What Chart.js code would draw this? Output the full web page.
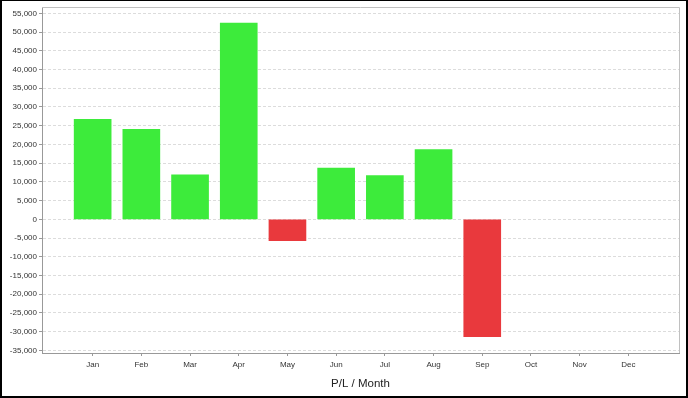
<!DOCTYPE html>
<html><head><meta charset="utf-8">
<script src="https://cdn.jsdelivr.net/npm/chart.js@4"></script>
<style>html,body{margin:0;padding:0;background:#fff}#wrap{position:relative;width:688px;height:398px}</style>
</head><body><div id="wrap"><canvas id="c"></canvas></div>
<script>
const months = ['Jan','Feb','Mar','Apr','May','Jun','Jul','Aug','Sep','Oct','Nov','Dec'];
const profitLoss = [26700, 24000, 11900, 52400, -5700, 13700, 11700, 18650, -31350, null, null, null];
const yTicks = [-35000,-30000,-25000,-20000,-15000,-10000,-5000,0,5000,10000,15000,20000,25000,30000,35000,40000,45000,50000,55000];
const axisTitle = 'P/L / Month';
const GREEN = '#3deb3b', RED = '#e9393d';

const framePlugin = {
  id: 'frame',
  afterDraw(chart) {
    const {ctx, chartArea: a} = chart;
    ctx.save();
    ctx.strokeStyle = '#c0c0c0';
    ctx.lineWidth = 1;
    ctx.beginPath();
    ctx.moveTo(a.left, a.top + 0.5);
    ctx.lineTo(a.right + 0.5, a.top + 0.5);
    ctx.lineTo(a.right + 0.5, a.bottom);
    ctx.stroke();
    ctx.fillStyle = '#000';
    ctx.fillRect(0, 0, 688, 1);
    ctx.fillRect(0, 0, 2, 398);
    ctx.fillRect(686, 0, 2, 398);
    ctx.fillRect(0, 396, 688, 2);
    ctx.restore();
  }
};

new Chart(document.getElementById('c'), {
  type: 'bar',
  data: {
    datasets: [{
      data: months.map((m, i) => ({x: i + 1, y: profitLoss[i]})),
      backgroundColor: profitLoss.map(v => (v !== null && v < 0) ? RED : GREEN),
      borderWidth: 0,
      barThickness: 37
    }]
  },
  options: {
    responsive: true,
    maintainAspectRatio: false,
    animation: false,
    layout: {padding: {top: 7, right: 9, left: 0, bottom: 0}},
    plugins: {legend: {display: false}, tooltip: {enabled: false}},
    scales: {
      x: {
        type: 'linear',
        offset: false,
        min: -0.04,
        max: 13.04,
        afterBuildTicks(s) { s.ticks = months.map((m, i) => ({value: i + 1})); },
        afterFit(s) { s.height = 45; },
        ticks: {
          autoSkip: false, maxRotation: 0, padding: 4,
          color: '#333',
          font: {family: 'Liberation Sans, Arial, sans-serif', size: 8},
          callback: (v) => months[Math.round(v) - 1] || ''
        },
        grid: {offset: false, drawOnChartArea: false, drawTicks: true, tickLength: 3, tickColor: '#999'},
        border: {color: '#999', width: 1},
        title: {
          display: true, text: axisTitle, color: '#222',
          font: {family: 'Liberation Sans, Arial, sans-serif', size: 11.5},
          padding: {top: 0, bottom: 7}
        }
      },
      y: {
        min: -35700,
        max: 56700,
        afterBuildTicks(s) { s.ticks = yTicks.map(v => ({value: v})); },
        afterFit(s) { s.width = 42; },
        ticks: {
          padding: 2, color: '#333',
          font: {family: 'Liberation Sans, Arial, sans-serif', size: 8},
          callback: (v) => Number(v).toLocaleString('en-US')
        },
        grid: {color: '#dcdcdc', tickLength: 3, tickColor: '#999'},
        border: {color: '#999', width: 1, dash: [3, 2]}
      }
    }
  },
  plugins: [framePlugin]
});
</script>
</body></html>
